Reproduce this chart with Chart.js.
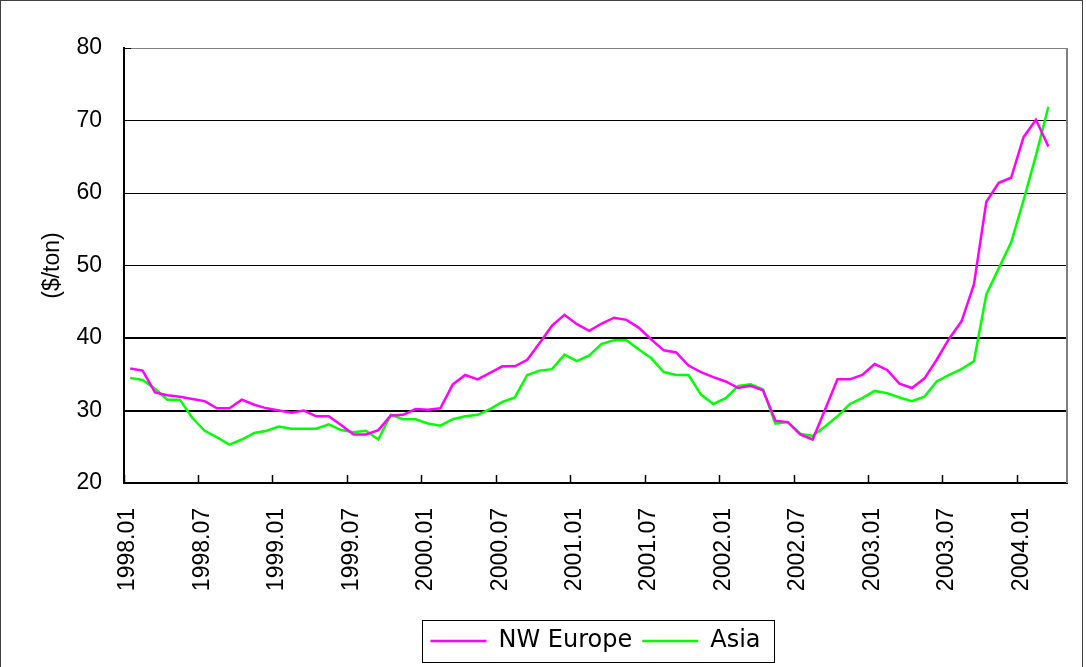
<!DOCTYPE html>
<html lang="en">
<head>
    <meta charset="UTF-8">
    <title>NW Europe vs Asia ($/ton)</title>
    <script src="https://cdn.jsdelivr.net/npm/chart.js"></script>
    <style>
        body {
            margin: 0;
            background: #fff;
        }
        canvas {
            display: block;
        }
    </style>
</head>
<body>

    <canvas id="priceChart" width="1086" height="667"></canvas>

    <script>
        // one tick label every 6 months, 76 monthly slots (1998.01 .. 2004.04)
        const tickLabels = ['1998.01', '1998.07', '1999.01', '1999.07', '2000.01', '2000.07', '2001.01',
                            '2001.07', '2002.01', '2002.07', '2003.01', '2003.07', '2004.01'];
        const monthSlots = 76;

        // monthly values, 1998.01 .. 2004.03
        const nwEurope = [35.8, 35.5, 32.5, 32.1, 31.9, 31.6, 31.3, 30.3, 30.3, 31.5,
                          30.8, 30.3, 30.0, 29.7, 30.0, 29.2, 29.2, 28.0, 26.7, 26.7,
                          27.3, 29.3, 29.4, 30.2, 30.1, 30.3, 33.6, 34.9, 34.3, 35.2,
                          36.1, 36.1, 37.0, 39.3, 41.7, 43.2, 41.9, 41.0, 42.0, 42.8,
                          42.5, 41.4, 39.8, 38.3, 38.0, 36.2, 35.3, 34.6, 34.0, 33.1,
                          33.4, 32.8, 28.6, 28.4, 26.7, 26.0, 30.1, 34.3, 34.3, 34.9,
                          36.4, 35.6, 33.7, 33.1, 34.4, 37.0, 39.9, 42.3, 47.4, 58.8,
                          61.4, 62.1, 67.7, 70.1, 66.4];
        const asia = [34.5, 34.2, 33.0, 31.5, 31.5, 29.0, 27.2, 26.3, 25.3, 26.0,
                      26.9, 27.2, 27.8, 27.5, 27.5, 27.5, 28.1, 27.3, 27.0, 27.2,
                      26.0, 29.4, 28.8, 28.8, 28.2, 27.9, 28.8, 29.2, 29.4, 30.2,
                      31.2, 31.8, 34.9, 35.5, 35.7, 37.7, 36.8, 37.6, 39.2, 39.7,
                      39.7, 38.4, 37.2, 35.3, 34.9, 34.9, 32.2, 30.9, 31.7, 33.4,
                      33.6, 32.9, 28.2, 28.4, 26.8, 26.5, 27.8, 29.2, 30.9, 31.7,
                      32.7, 32.4, 31.8, 31.3, 31.9, 34.0, 34.9, 35.7, 36.8, 46.0,
                      49.6, 53.2, 59.0, 65.2, 71.9];

        const fontFamily = "'Liberation Sans', Arial, sans-serif";

        // each month is drawn in the middle of its slot
        function toPoints(values) {
            return values.map((v, i) => ({ x: i + 0.5, y: v }));
        }

        const frames = {
            id: 'frames',
            afterLayout(chart) {
                // centre the legend under the plot area instead of the canvas
                const lg = chart.legend;
                const area = chart.chartArea;
                const shift = (area.left + area.right) / 2 - (lg.left + lg.right) / 2;
                lg.left += shift;
                lg.right += shift;
            },
            afterDraw(chart) {
                const ctx = chart.ctx;
                const area = chart.chartArea;
                ctx.save();
                // right edge of the plot
                ctx.strokeStyle = '#808080';
                ctx.lineWidth = 2;
                ctx.beginPath();
                ctx.moveTo(area.right, area.top);
                ctx.lineTo(area.right, area.bottom);
                ctx.stroke();
                // box round the legend
                const boxes = chart.legend.legendHitBoxes;
                if (boxes.length) {
                    const first = boxes[0];
                    const last = boxes[boxes.length - 1];
                    const mid = first.top + first.height / 2;
                    ctx.strokeStyle = '#000';
                    ctx.lineWidth = 1;
                    ctx.strokeRect(Math.round(first.left - 8) + 0.5, Math.round(mid - 21) + 0.5,
                        Math.round(last.left + last.width + 14 - first.left + 8), 42);
                }
                // chart area border
                ctx.strokeStyle = '#404040';
                ctx.strokeRect(0.5, 0.5, 1082, chart.height + 5);
                ctx.restore();
            }
        };

        const ctx = document.getElementById('priceChart').getContext('2d');
        const priceChart = new Chart(ctx, {
            type: 'line',
            data: {
                datasets: [{
                    label: 'NW Europe',
                    data: toPoints(nwEurope),
                    borderColor: '#ff00ff',
                    backgroundColor: '#ff00ff',
                    borderWidth: 2.5,
                    pointRadius: 0,
                    tension: 0,
                    fill: false
                }, {
                    label: 'Asia',
                    data: toPoints(asia),
                    borderColor: '#00ff00',
                    backgroundColor: '#00ff00',
                    borderWidth: 2.5,
                    pointRadius: 0,
                    tension: 0,
                    fill: false
                }]
            },
            options: {
                responsive: false,
                animation: false,
                layout: {
                    padding: { top: 48, right: 19, left: 0, bottom: 4 }
                },
                plugins: {
                    tooltip: { enabled: false },
                    legend: {
                        position: 'bottom',
                        labels: {
                            usePointStyle: true,
                            pointStyle: 'line',
                            pointStyleWidth: 56,
                            padding: 10,
                            color: '#000',
                            font: { family: "'DejaVu Sans', sans-serif", size: 24 }
                        }
                    }
                },
                scales: {
                    x: {
                        type: 'linear',
                        min: 0,
                        max: monthSlots,
                        afterFit: s => { s.height = 136; },
                        grid: {
                            drawOnChartArea: false,
                            tickLength: -8,
                            tickColor: '#000',
                            tickWidth: 1.5
                        },
                        border: { color: '#000', width: 2 },
                        ticks: {
                            stepSize: 6,
                            includeBounds: false,
                            autoSkip: false,
                            minRotation: 90,
                            maxRotation: 90,
                            padding: 33,
                            labelOffset: 4,
                            color: '#000',
                            font: { family: fontFamily, size: 23 },
                            callback: v => tickLabels[v / 6]
                        }
                    },
                    y: {
                        min: 20,
                        max: 80,
                        afterFit: s => { s.width = 124; },
                        grid: {
                            color: c => c.tick.value === 80 ? '#808080' : '#000',
                            lineWidth: c => (c.tick.value === 30 || c.tick.value === 40) ? 2 : 1,
                            tickLength: -7,
                            tickColor: '#000'
                        },
                        border: { color: '#000', width: 2 },
                        ticks: {
                            stepSize: 10,
                            padding: 29,
                            color: '#000',
                            font: { family: fontFamily, size: 23 }
                        },
                        title: {
                            display: true,
                            text: '($/ton)',
                            color: '#000',
                            padding: { top: 39 },
                            font: { family: fontFamily, size: 23 }
                        }
                    }
                }
            },
            plugins: [frames]
        });
    </script>

</body>
</html>
